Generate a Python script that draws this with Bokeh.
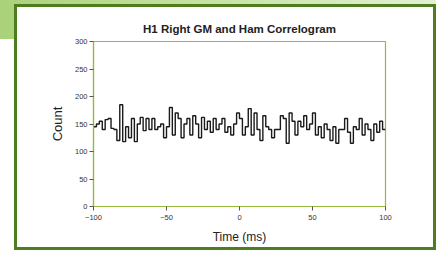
from bokeh.plotting import figure
from bokeh.models import Range1d, FixedTicker, InlineStyleSheet
from bokeh.embed import file_html
from bokeh.resources import INLINE

# Data: 2 ms bins from -100 to 100
bin_start = -100
bin_width = 2
counts = [145, 150, 155, 140, 158, 160, 142, 140, 120, 185,
          118, 145, 125, 160, 118, 150, 162, 138, 160, 140,
          160, 140, 145, 150, 125, 145, 180, 130, 170, 160,
          125, 150, 160, 130, 165, 150, 125, 162, 140, 155,
          135, 160, 140, 150, 160, 135, 145, 130, 150, 170,
          160, 130, 145, 178, 130, 170, 140, 120, 165, 145,
          140, 125, 140, 140, 165, 160, 115, 170, 155, 130,
          155, 145, 165, 140, 150, 170, 130, 145, 125, 150,
          140, 120, 145, 115, 140, 140, 160, 135, 115, 145,
          140, 160, 130, 150, 140, 120, 150, 135, 155, 140]
x_ticks = [-100, -50, 0, 50, 100]
y_ticks = [0, 50, 100, 150, 200, 250, 300]

edges = [bin_start + i * bin_width for i in range(len(counts) + 1)]
xs = edges
ys = counts + [counts[-1]]

FONT = "Liberation Sans"
GREEN = "#95b93c"

p = figure(width=436, height=250, output_backend="svg", toolbar_location=None,
           x_range=Range1d(-100, 100), y_range=Range1d(0, 300),
           min_border_left=93, min_border_right=51, min_border_top=41, min_border_bottom=44,
           title="H1 Right GM and Ham Correlogram")
p.border_fill_alpha = 0
p.background_fill_color = "white"
p.outline_line_color = GREEN
p.outline_line_width = 1.2
p.xgrid.visible = False
p.ygrid.visible = False

css = """
:host {
  background:
    linear-gradient(#ffffff, #ffffff) 17px 7px / 416px 240px no-repeat,
    linear-gradient(#4e7d1f, #4e7d1f) 14px 4px / 422px 246px no-repeat,
    linear-gradient(to right, #a9d27a, #c2e09c 40%, #e3f0d4) 0px 0px / 436px 39px no-repeat,
    #ffffff;
}
"""
p.stylesheets = [InlineStyleSheet(css=css)]

p.step(xs, ys, mode="after", line_color="#1a1a1a", line_width=1.4)

p.title.text_font = FONT
p.title.text_font_size = "11.5px"
p.title.text_font_style = "bold"
p.title.text_color = "#222222"
p.title.align = "center"
p.title.vertical_align = "bottom"
p.title.standoff = 14

for ax in (p.xaxis[0], p.yaxis[0]):
    ax.axis_line_color = GREEN
    ax.axis_line_width = 1.2
    ax.major_tick_line_color = "#555555"
    ax.major_tick_out = 4
    ax.major_tick_in = 0
    ax.minor_tick_line_color = None
    ax.major_label_text_font = FONT
    ax.major_label_text_font_size = "7.5px"
    ax.major_label_text_color = "#333333"
    ax.axis_label_text_font = FONT
    ax.axis_label_text_font_style = "normal"
    ax.axis_label_text_color = "#222222"

p.xaxis.ticker = FixedTicker(ticks=x_ticks)
p.yaxis.ticker = FixedTicker(ticks=y_ticks)
p.xaxis.axis_label = "Time (ms)"
p.yaxis.axis_label = "Count"
p.xaxis.axis_label_text_font_size = "12px"
p.yaxis.axis_label_text_font_size = "13px"
p.xaxis.axis_label_standoff = 7
p.yaxis.axis_label_standoff = 7
p.xaxis.major_label_standoff = 4
p.yaxis.major_label_standoff = 2

open("out.html", "w").write(file_html(p, INLINE))
